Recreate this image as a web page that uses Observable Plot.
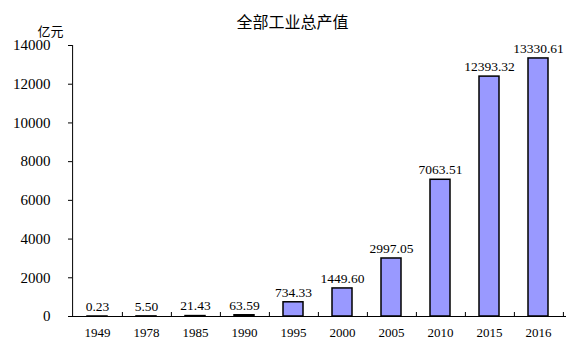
<!DOCTYPE html>
<html><head><meta charset="utf-8">
<script src="https://cdn.jsdelivr.net/npm/d3@7"></script>
<script src="https://cdn.jsdelivr.net/npm/@observablehq/plot@0.6"></script>
<style>
body{margin:0;background:#fff;}
svg{font-family:"Liberation Serif","Noto Sans CJK SC",serif;}
</style></head>
<body><div id="chart"></div>
<script>
const years = ["1949","1978","1985","1990","1995","2000","2005","2010","2015","2016"];
const values = [0.23,5.50,21.43,63.59,734.33,1449.60,2997.05,7063.51,12393.32,13330.61];
const yTicks = [0,2000,4000,6000,8000,10000,12000,14000];
const title = "全部工业总产值";
const unit = "亿元";

const data = years.map((y,i)=>({year:y,value:values[i]}));
const W=576,H=352,mL=68,mR=10,mT=45,mB=36;
const innerW=W-mL-mR, innerH=H-mT-mB;
const step=innerW/years.length;

const chart = Plot.plot({
  width:W,height:H,marginLeft:mL,marginRight:mR,marginTop:mT,marginBottom:mB,
  x:{domain:years,paddingInner:0.6,paddingOuter:0.3,label:null},
  y:{domain:[0,14000],label:null},
  marks:[
    Plot.axisY({ticks:yTicks,tickSize:0,tickPadding:18,tickFormat:d=>String(d),fontSize:15,label:null}),
    Plot.axisX({tickSize:0,tickPadding:11,fontSize:13,label:null}),
    Plot.tickY(yTicks,{y:d=>d,insetRight:innerW-4,stroke:"#000"}),
    Plot.barY(data,{x:"year",y:"value",fill:"#9999ff",stroke:"#000",strokeWidth:1.5}),
    Plot.tickX(years,{x:d=>d,dx:step/2,insetTop:innerH-4,stroke:"#000"}),
    Plot.ruleX([0],{x:()=>years[0],dx:-step/2,stroke:"#000"}),
    Plot.ruleY([0],{stroke:"#000"}),
    Plot.text(data,{x:"year",y:"value",text:d=>d3.format(".2f")(d.value),dy:-10,fontSize:13.5,fill:"#000"}),
    Plot.text([title],{frameAnchor:"top",lineAnchor:"middle",dx:-25,dy:-23,fontSize:16,fill:"#000"}),
    Plot.text([unit],{frameAnchor:"top-left",textAnchor:"middle",lineAnchor:"middle",dx:-18,dy:-14,fontSize:13,fill:"#000"})
  ]
});
document.getElementById("chart").appendChild(chart);
</script></body></html>
